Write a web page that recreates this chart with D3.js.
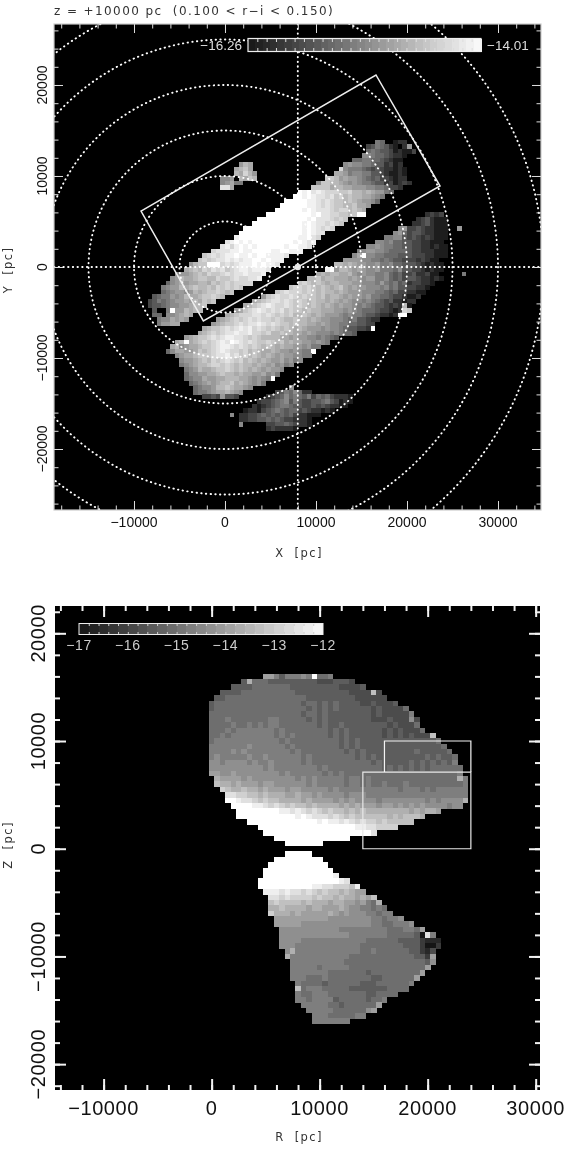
<!DOCTYPE html>
<html><head><meta charset="utf-8">
<script src="https://cdn.jsdelivr.net/npm/d3@7"></script>
<style>
html,body{margin:0;padding:0;background:#fff}
svg{display:block;filter:blur(0.35px)}
text{font-family:"Liberation Sans",Arial,sans-serif}
.title{font-family:"DejaVu Sans",sans-serif;white-space:pre}
</style></head><body>
<svg id="c" width="570" height="1151"></svg>
<script>
// Rows: [row index, first column, grey levels (hex, 0 black - f white, "." empty, spaces ignored)]
const planeBandUpper = [
[27,33,"65..122"],[26,31,"3465421.28"],[25,31,"56544312113"],[24,30,"7765543221"],
[23,28,"55665543211"],[22,26,"7877665442312"],[21,25,"c766654343 22121"],[20,24,"9986776644 321121"],
[19,22,"bba8988765 45332122"],[18,20,"7bbaa98787 6654423123 2"],[17,19,"bbbb9aa998 8877665332"],
[16,16,"fefdedcccb bcaa9a9886 5"],[15,15,"ffefeddcdb cabaa99876"],[14,13,"fffffeedcd cbbaba9887 5"],
[13,12,"ffffffeedc dcbbaab998"],[12,11,"ffffffefed ddcbccaba9"],[11,9,"ffffffffff efddccbbab ff"],
[10,7,"ffffffffff fefdddcbcb"],[9,6,"ffffffffff fefeddcdcb"],[8,4,"ffffffffff fffefedcdc"],
[7,3,"ffffffffff ffffefedd"],[6,2,"efffffffff ffffeefdc"],[5,0,"defefeffff fffffefede"],
[4,-1,"decefefeff ffffeffeed"],[3,-3,"cdddeefeef fffeeffeee"],[2,-5,"bcdcdeefee feffeeeed"],
[1,-6,"bcbcddeded eeffefeee"],[0,-8,"8abbfffcdc deeefefeed"],[-1,-9,"9abacbdcdb cdeedeeed"],
[-2,-11,"7889abacbb cdcddeddde"],[-3,-12,"78a99abbaa cbbcdccdde"],[-4,-13,"5789899aa9 babcbcccc"],
[-5,-14,"6788a9abaa bacbcbcb"],[-6,-14,"5678878a9a bbcbab"],[-7,-16,"4566878a99 abbcba"],
[-8,-17,"3465678898 a9bab"],[-9,-17,"3445677889 aab"],[-10,-16,"4..6f88a9a a"],
[-11,-16,"55.7789a9"],[-12,-15,"6779898"],[-13,-15,"68899"]
];
const planeBandLower = [
[11,44,"2323"],[10,42,"2342111"],[9,41,"22342111"],[8,38,"7833432211 1"],[8,51,"8"],
[7,37,"785344322111"],[6,35,"6677434323 2111"],[5,33,"7767554433 22111"],[4,31,"7787665544 33221211"],
[3,29,"6788776555 5433222111"],[2,28,"79f7766555 4443332211 1"],[1,26,"8888776656 5443332321 1"],
[0,24,"aa9a988778 6675544432 1211"],[-1,22,"ef8aa98987 7866657443 321211"],
[-2,20,"9a9aa99a87 8776675453 3422311"],[-2,52,"6"],[-3,18,"aab9aa9998 9878866754 5344322121"],
[-4,16,"bcbaba9aa9 9988777686 5645233221"],[-5,14,"bccbcbaba9 ab98988777 6756443322 1"],
[-6,11,"bcdcccbcba baa9a98887 7766545332 211"],[-7,8,"8bcdccdcbc bbab9aa989 8878665543 32112"],
[-8,6,"9abcddcdcb cbabaa9a98 9877676543 422122"],[-9,4,"9abcdedccd cbcbaba9a9 8988767654 43232a1"],
[-10,2,"89bcdedcdc dbcbbabaa9 9988787655 5433212cb"],[-11,0,"9abcccddcd cbcbcaaba9 a988876766 54432212ff"],
[-12,-2,"89abcbcdcd ccbcbaabaa 9a98877765 644322"],[-13,-3,"89abbcdcdd edcdcbbaba a998987766 554433"],
[-14,-5,"9abbcdcded ecdcbcbaba 9a98887877 6544332f"],[-15,-6,"9abcbcdded deccbcaaba a998987776 76554"],
[-16,-9,"89abbcdcde eddcbcbaaa a998988776 7654"],[-17,-11,"9af9abcbcd edfedcdcbb cbab9a9988 7876"],
[-18,-12,"9a7899abbc deedcdcbcb aba9a99887 866"],[-19,-13,"5799889bab cdedccbcab a99a988787 66f"],
[-20,-11,"7899abbbcd decdbcaba9 a989887766"],[-21,-10,"7889abacbc dcbcaba9a9 8897867"],
[-22,-10,"6789aabccb cbabaa9a98 97867"],[-23,-9,"678a99abbc baba9a9898 87"],
[-24,-9,"5778899aba a9a9988978 6"],[-25,-9,"567798899a aa9987876f"],[-26,-8,"5678989aab 9a98786"],
[-27,-7,"56778aaba9 987"],[-28,-7,"5667899a98 7"],[-29,-5,"33438443"]
];
const planeBlobNorth = [
[22,3,"8a9"],[21,2,"9ab9"],[20,2,"a9ca8"],[19,-1,"778.a9ba"],[18,-1,"7896 6"],[17,-1,"dd9"]
];
const planeBlobSouth = [
[-27,14,"7"],[-28,11,"34657522"],[-29,9,"2345756546 354532221"],[-30,7,"2334567464 3344564312 1"],
[-31,6,"2123456654 4334343221 1"],[-32,4,"1221345654 5534322121"],[-33,1,"7.22334545 4545322111"],
[-34,3,"2233445 454332221"],[-35,3,"7.....3344 543221"],[-36,9,"2322221"]
];
const wedgeNorth = [
[32,10,"997577787f 667"],[31,6,"5a66655555 5555444555 4"],[30,4,"5555666666 6555555555 44445"],
[29,2,"5555666666 6666555555 555544 44b4"],[28,1,"5566666666 6666666555 5555554444 44"],
[27,0,"5666666666 6666666566 5656555544 54445"],[26,0,"5666666666 6666666656 5656555555 4544446"],
[25,0,"6666666666 6666666566 5655555555 45444447"],[24,0,"6667666666 6776666656 5655555555 444544484"],
[23,0,"6666766767 6776666666 5655655555 555454446"],[22,0,"6667677777 7767666666 6656565555 5545454446"],
[21,0,"6676777777 7767676666 6656565555 5545454544 4b"],[20,0,"6777777777 7776766666 6666565655 5555555555 556"],
[19,0,"7777777877 7777676666 6666565655 5555555555 5556"],[18,0,"7777878777 7777767666 6666656565 5555555565 55556"],
[17,0,"7877777877 8777777676 6666666565 6555555555 656556"],[16,0,"8878888787 7877777676 6666666666 5655555656 565657"],
[15,0,"8888888888 7877777777 6766666666 6656565656 5666666"],[14,0,"9988988888 8887877777 7676766666 6666666666 6666667"],
[13,1,"a999989888 8888878787 7777677676 6666666666 66666a7"],[12,1,"baa9a99989 9888888787 7777677676 6766676666 6666667"],
[11,2,"cbaabaa9a9 9989988888 7877777777 7776777676 777777"],[10,3,"ddccbbabaa a99a998988 8878887777 7777777777 77777"],
[9,3,"ffeddcbcbb aaaa9a9999 8989888878 8888888787 8888a"],[8,4,"ffffeedcdc bcbbabaaaa 9a9a999899 8989898888 788"],
[7,5,"ffffffffee dedcdcbcbb ababaaaaaa aa9a9aa9"],[6,5,"ffffffffff fefedddcdc bcbbbbbbab abbba"],
[5,7,"ffffffffff fffefeeded cdccbcbbbb b"],[4,9,"ffffffffff ffffffffee ddcccc"],
[3,10,"ffffffffff ffffffffff d"],[2,12,"ffffffffff ffff"],[1,14,"fffffff"]
];
const wedgeSouth = [
[-1,14,"fffff"],[-2,12,"fffffffff"],[-3,11,"fffffffffff"],[-4,10,"fffffffffffff"],[-5,10,"fffffffffffffe"],
[-6,9,"ffffffffff fffffed"],[-7,9,"ffffffffff eeddcccbe"],[-8,10,"eeededdcdc bcbbaba99"],[-9,11,"ddcdccccbc bbabaa9a9b"],
[-10,11,"bcbbbbabaa a9aa998976 a"],[-11,11,"aabaaaa9aa 999a988776 76"],[-12,11,"caaa9a9999 9a98988877 677"],
[-13,12,"9999999999 8888888877 6778"],[-14,12,"9999988888 8888888877 667778"],[-15,13,"8888888888 8777777777 6667769"],
[-16,13,"8888888888 8887777777 6666651d7"],[-17,13,"8888777777 7777776666 6655553222"],[-18,13,"8887777777 7777766666 6665553113"],
[-19,14,"8a77777777 7777667666 66655324"],[-20,14,"a777777777 7766666666 66665539"],[-21,15,"7777777777 6666666666 6666658"],
[-22,15,"7777767777 7666666666 666669"],[-23,15,"7777777666 6666566666 66669"],[-24,15,"7776667666 6666655666 6669"],
[-25,16,"7666656666 6655566666 67"],[-26,16,"b677766666 5555555666 6"],[-27,16,"7667776666 666556666"],
[-28,16,"7767777566 6665667"],[-29,17,"7777766566 66669"],[-30,18,"7777766666 689"],[-31,19,"7776666677"],[-32,19,"7777777"]
];
const planeRings = [5000,10000,15000,20000,25000,30000,35000];
const planeBox = [[-9230,6150],[16590,21100],[23630,8900],[-2380,-5930]];
const sunX = 8000;
const wedgeBoxLower = [[14000,0],[24000,0],[24000,7120],[14000,7120]];
const wedgeBoxUpper = [[16000,7120],[16000,10000],[24000,10000],[24000,7120]];
const planeMajor = [-10000,0,10000,20000,30000];
const planeYMajor = [-20000,-10000,0,10000,20000];
const wedgeXMajor = [-10000,0,10000,20000,30000];
const wedgeYMajor = [-20000,-10000,0,10000,20000];
const wedgeCbarTicks = [-17,-16,-15,-14,-13,-12];
const planeCbarEnds = [-16.26,-14.01];

const svg = d3.select("#c");
const greyOf = e => { const s=d3.scalePow().exponent(e).domain([0,15]).range([0,255]);
  return v => { const g=Math.round(s(v)); return `rgb(${g},${g},${g})`; }; };
const greyPlane = greyOf(.8), greyWedge = greyOf(.92);
const minus = s => String(s).replace("-","\u2212");
const evens = (a,b) => d3.range(a,b+1,2000);
const cellBin = 500;

// ---------- top panel
const px = d3.scaleLinear([-18791,34725],[54,541]);
const py = d3.scaleLinear([26703,-26703],[24,510]);
const pl = svg.append("g");
pl.append("rect").attr("x",54).attr("y",24).attr("width",487).attr("height",486).attr("fill","#000");
function decode(rows){
  const out=[];
  rows.forEach(([j,c0,s])=>{
    [...s.replace(/\s/g,"")].forEach((ch,i)=>{ if(ch!==".") out.push({j,c:c0+i,v:parseInt(ch,16)}); });
  });
  return out;
}
pl.append("g").attr("shape-rendering","crispEdges").selectAll("rect")
  .data(decode(planeBandUpper).concat(decode(planeBandLower),decode(planeBlobNorth),decode(planeBlobSouth)))
  .join("rect")
  .attr("x",d=>px(d.c*cellBin)).attr("y",d=>py((d.j+1)*cellBin))
  .attr("width",px(cellBin)-px(0)+.3).attr("height",py(0)-py(cellBin)+.3)
  .attr("fill",d=>greyPlane(d.v));
svg.append("clipPath").attr("id","cp").append("rect").attr("x",54).attr("y",24).attr("width",487).attr("height",486);
const dots = pl.append("g").attr("clip-path","url(#cp)").attr("fill","none").attr("stroke","#fff")
  .attr("stroke-width",1.9).attr("stroke-linecap","round").attr("stroke-dasharray","0.4 4.3");
dots.selectAll("circle").data(planeRings).join("circle")
  .attr("cx",px(0)).attr("cy",py(0)).attr("r",d=>px(d)-px(0));
dots.append("line").attr("x1",54).attr("x2",541).attr("y1",py(0)).attr("y2",py(0));
dots.append("line").attr("x1",px(sunX)).attr("x2",px(sunX)).attr("y1",24).attr("y2",510);
pl.append("circle").attr("cx",px(sunX)).attr("cy",py(0)).attr("r",3.2).attr("fill","#e6e6e6");
pl.append("path").datum(planeBox)
  .attr("d",d3.line().x(d=>px(d[0])).y(d=>py(d[1])).curve(d3.curveLinearClosed))
  .attr("fill","none").attr("stroke","#eee").attr("stroke-width",1.5);

function ticks(g,axis,tx,ty,col,w){
  const a=g.append("g").attr("transform",`translate(${tx},${ty})`).call(axis);
  a.select(".domain").remove();
  a.selectAll("text").remove();
  a.selectAll("line").attr("stroke",col).attr("stroke-width",w);
}
function frame(g,X,Y,xM,yM,maj,min,col,w){
  const [x0,x1]=X.range(),[y0,y1]=Y.range();
  const xMin=evens(Math.ceil(X.domain()[0]/2000)*2000,X.domain()[1]);
  const yMin=evens(Math.ceil(Y.domain()[1]/2000)*2000,Y.domain()[0]);
  [[d3.axisBottom,y1],[d3.axisTop,y0]].forEach(([ax,t])=>{
    ticks(g,ax(X).tickValues(xMin).tickSize(-min),0,t,col,w);
    ticks(g,ax(X).tickValues(xM).tickSize(-maj),0,t,col,w);
  });
  [[d3.axisLeft,x0],[d3.axisRight,x1]].forEach(([ax,t])=>{
    ticks(g,ax(Y).tickValues(yMin).tickSize(-min),t,0,col,w);
    ticks(g,ax(Y).tickValues(yM).tickSize(-maj),t,0,col,w);
  });
}
frame(pl,px,py,planeMajor,planeYMajor,9,4.5,"#ddd",1);
pl.append("rect").attr("x",54).attr("y",24).attr("width",487).attr("height",486)
  .attr("fill","none").attr("stroke","#ccc").attr("stroke-width",1.2);

// colour bar (top)
const cbT = d3.scaleLinear(planeCbarEnds,[248,481]);
const cbTsteps = d3.range(32).map(i=>planeCbarEnds[0]+(planeCbarEnds[1]-planeCbarEnds[0])*i/32);
const stepT=(planeCbarEnds[1]-planeCbarEnds[0])/32;
const cbTgrey = d3.scaleLinear(planeCbarEnds,["#1a1a1a","#fff"]);
pl.append("g").attr("shape-rendering","crispEdges").selectAll("rect").data(cbTsteps).join("rect")
  .attr("x",d=>cbT(d)).attr("y",38.5).attr("width",cbT(stepT)-cbT(0)+.5).attr("height",13)
  .attr("fill",d=>cbTgrey(d));
const cbTt = d3.range(1,25).map(i=>planeCbarEnds[0]+(planeCbarEnds[1]-planeCbarEnds[0])*i/25);
ticks(pl,d3.axisTop(cbT).tickValues(cbTt).tickSize(-3.5),0,38.5,"#ddd",1);
ticks(pl,d3.axisBottom(cbT).tickValues(cbTt).tickSize(-3.5),0,51.5,"#ddd",1);
pl.append("rect").attr("x",248).attr("y",38.5).attr("width",233).attr("height",13)
  .attr("fill","none").attr("stroke","#eee").attr("stroke-width",1.2);
pl.append("text").attr("x",242).attr("y",50).attr("text-anchor","end").attr("fill","#ddd").attr("font-size",13.5).text(minus(planeCbarEnds[0].toFixed(2)));
pl.append("text").attr("x",487).attr("y",50).attr("fill","#ddd").attr("font-size",13.5).text(minus(planeCbarEnds[1].toFixed(2)));

// top labels
const fmtT = 14;
pl.selectAll(".xl").data(planeMajor).join("text").attr("class","xl")
  .attr("x",d=>px(d)).attr("y",527).attr("text-anchor","middle").attr("font-size",fmtT).attr("fill","#111").text(minus);
pl.selectAll(".yl").data(planeYMajor).join("text").attr("class","yl")
  .attr("transform",d=>`translate(47,${py(d)}) rotate(-90)`).attr("text-anchor","middle").attr("font-size",fmtT).attr("fill","#111").text(minus);
const title = (x,y,t,rot,anchor,fs)=>svg.append("text").attr("class","title")
  .attr("transform",`translate(${x},${y}) rotate(${rot||0})`).attr("text-anchor",anchor||"middle")
  .attr("font-size",fs||11.5).attr("letter-spacing",1.4).attr("fill","#333").text(t);
title(54,15,"z = +10000 pc  (0.100 < r\u2212i < 0.150)",0,"start",12).attr("letter-spacing",1.4);
title(299,557,"X  [pc]");
title(12,270,"Y  [pc]",-90);

// ---------- bottom panel
const rx = d3.scaleLinear([-14500,30400],[55,540]);
const ry = d3.scaleLinear([22535,-22400],[606,1090]);
const wg = svg.append("g");
wg.append("rect").attr("x",55).attr("y",606).attr("width",485).attr("height",484).attr("fill","#000");
wg.append("g").attr("shape-rendering","crispEdges").selectAll("rect")
  .data(decode(wedgeNorth).concat(decode(wedgeSouth))).join("rect")
  .attr("x",d=>rx((d.c-.5)*cellBin)).attr("y",d=>ry((d.j+.5)*cellBin))
  .attr("width",rx(cellBin)-rx(0)+.3).attr("height",ry(0)-ry(cellBin)+.3)
  .attr("fill",d=>greyWedge(d.v));
const ln = d3.line().x(d=>rx(d[0])).y(d=>ry(d[1]));
wg.append("path").attr("d",ln.curve(d3.curveLinearClosed)(wedgeBoxLower)).attr("fill","none").attr("stroke","#e8e8e8").attr("stroke-width",1.2);
wg.append("path").attr("d",ln.curve(d3.curveLinear)(wedgeBoxUpper)).attr("fill","none").attr("stroke","#f4f4f4").attr("stroke-width",1.2);
frame(wg,rx,ry,wedgeXMajor,wedgeYMajor,11,5,"#f2f2f2",2);

// colour bar (bottom)
const cbB = d3.scaleLinear([-17,-12],[79,323]);
const cbBgrey = d3.scaleLinear([-17,-12],["#1a1a1a","#fff"]);
const stepsB = d3.range(0,25).map(i=>-17+i*.2);
wg.append("g").attr("shape-rendering","crispEdges").selectAll("rect").data(stepsB).join("rect")
  .attr("x",d=>cbB(d)).attr("y",623.5).attr("width",cbB(.2)-cbB(0)+.4).attr("height",11)
  .attr("fill",d=>cbBgrey(d));
const cbBt = d3.range(1,25).map(i=>-17+i*.2);
ticks(wg,d3.axisTop(cbB).tickValues(cbBt).tickSize(-2.5),0,623.5,"#ccc",1);
ticks(wg,d3.axisBottom(cbB).tickValues(cbBt).tickSize(-2.5),0,634.5,"#ccc",1);
wg.append("rect").attr("x",79).attr("y",623.5).attr("width",244).attr("height",11).attr("fill","none").attr("stroke","#eee");
wg.selectAll(".cbl").data(wedgeCbarTicks).join("text").attr("class","cbl")
  .attr("x",d=>cbB(d)).attr("y",650).attr("text-anchor","middle").attr("font-size",14).attr("letter-spacing",.6)
  .attr("fill","#ccc").text(minus);

wg.selectAll(".xl").data(wedgeXMajor).join("text").attr("class","xl")
  .attr("x",d=>rx(d)).attr("y",1115).attr("text-anchor","middle").attr("font-size",20).attr("letter-spacing",.6).attr("fill","#111").text(minus);
wg.selectAll(".yl").data(wedgeYMajor).join("text").attr("class","yl")
  .attr("transform",d=>`translate(45,${ry(d)}) rotate(-90)`).attr("text-anchor","middle").attr("font-size",20).attr("letter-spacing",.6).attr("fill","#111").text(minus);
title(299,1141,"R  [pc]");
title(12,845,"Z  [pc]",-90);
</script>
</body></html>
